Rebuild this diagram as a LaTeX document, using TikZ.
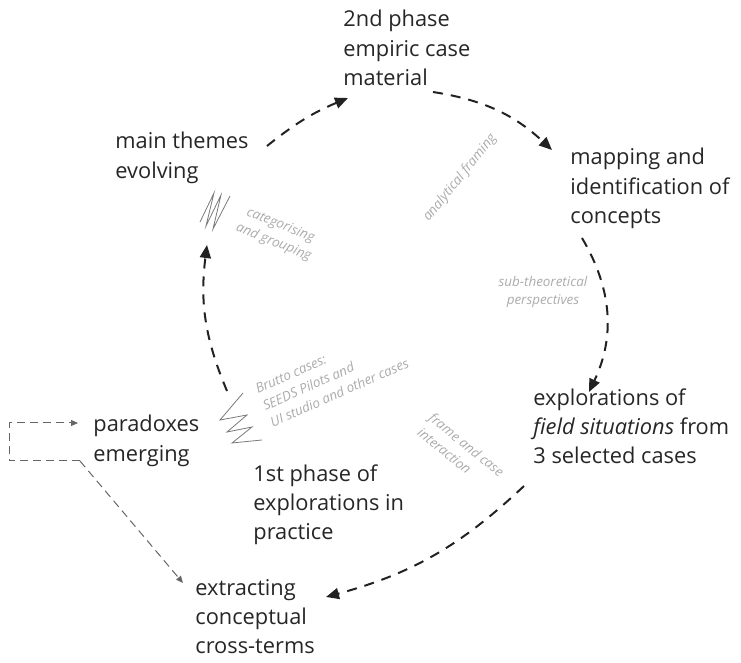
\documentclass[tikz,border=0pt]{standalone}
\usepackage{fontspec}
\setmainfont{Open Sans}
\usetikzlibrary{arrows.meta}
\definecolor{flowline}{HTML}{222222}
\definecolor{loopline}{HTML}{666666}
\definecolor{remarkgrey}{HTML}{ABABAB}
\definecolor{zigline}{HTML}{7A7A7A}
\tikzset{
  stage/.style={anchor=north west, inner sep=0pt, align=left,
    font=\fontsize{10.9}{14.6}\selectfont, text=black!85,
    execute at begin node=\strut},
  remark/.style={font=\fontsize{6.7}{9.2}\selectfont\itshape,
    text=remarkgrey, align=center, inner sep=0pt},
  flow/.style={-{Triangle[length=6.5pt,width=5.5pt]}, line width=1pt,
    draw=flowline, dash pattern=on 5pt off 4pt},
  loopflow/.style={-{Triangle[length=3.5pt,width=3pt]}, line width=0.5pt,
    draw=loopline, dash pattern=on 4pt off 2.5pt},
  zig/.style={draw=zigline, line width=0.4pt},
}

\begin{document}
\begin{tikzpicture}[x=0.5pt,y=-0.5pt]
\useasboundingbox (0,0) rectangle (741,663);

% ---- Stages around the cycle ---------------------------------------------
\node[stage] (phase2) at (343,10) {2nd phase\\empiric case\\material};
\node[stage] (themes) at (115,132) {main themes\\evolving};
\node[stage] (mapping) at (570,148) {mapping and\\identification of\\concepts};
\node[stage] (explore) at (533,388)
  {explorations of\\\textit{field situations} from\\3 selected cases};
\node[stage] (paradox) at (93,415) {paradoxes\\emerging};
\node[stage] (phase1) at (253,464) {1st phase of\\explorations in\\practice};
\node[stage] (extract) at (195,579) {extracting\\conceptual\\cross-terms};

% ---- Grey remarks ----------------------------------------------------------
\node[remark, rotate=-22] (catlab) at (277,234) {categorising\\and grouping};
\node[remark, rotate=51] (framing) at (460,178) {analytical framing};
\node[remark] (sublab) at (543,292) {sub-theoretical\\perspectives};
\node[remark, rotate=-39, align=left] (framelab) at (461,452)
  {frame and case\\interaction};
\node[remark, rotate=24, align=left] (brutto) at (332,376)
  {Brutto cases:\\SEEDS Pilots and\\UI studio and other cases};

% zigzags
\draw[zig] (200,222) -- (214,193) -- (206,226) -- (221,195) -- (213,229) -- (230,196);
\draw[zig] (243,393) -- (220,420) -- (247,415) -- (227,432) -- (252,427)
  -- (232,443) -- (262,440);

% ---- The cycle -------------------------------------------------------------
\draw[flow] ([shift={(152,14)}]themes.north west) to[bend left=8]
  ([shift={(5,88)}]phase2.north west);
\draw[flow] ([shift={(90,82)}]phase2.north west) to[bend left=17]
  ([shift={(-18,2)}]mapping.north west);
\draw[flow] ([shift={(12,90)}]mapping.north west) to[bend left=28]
  ([shift={(56,4)}]explore.north west);
\draw[flow] ([shift={(-9,98)}]explore.north west) to[bend left=14]
  ([shift={(131,18)}]extract.north west);
\draw[flow] ([shift={(134,-24)}]paradox.north west) to[bend left=15]
  ([shift={(92,113)}]themes.north west);

% Paradox loop back onto itself and out to the cross-terms.
\draw[loopflow] ([shift={(-13,46)}]paradox.north west) coordinate (fork)
  -| ([shift={(-84,8)}]paradox.north west)
  -- ([shift={(-15,8)}]paradox.north west);
\draw[loopflow] (fork) -- ([shift={(-12,4)}]extract.north west);

\end{tikzpicture}
\end{document}
